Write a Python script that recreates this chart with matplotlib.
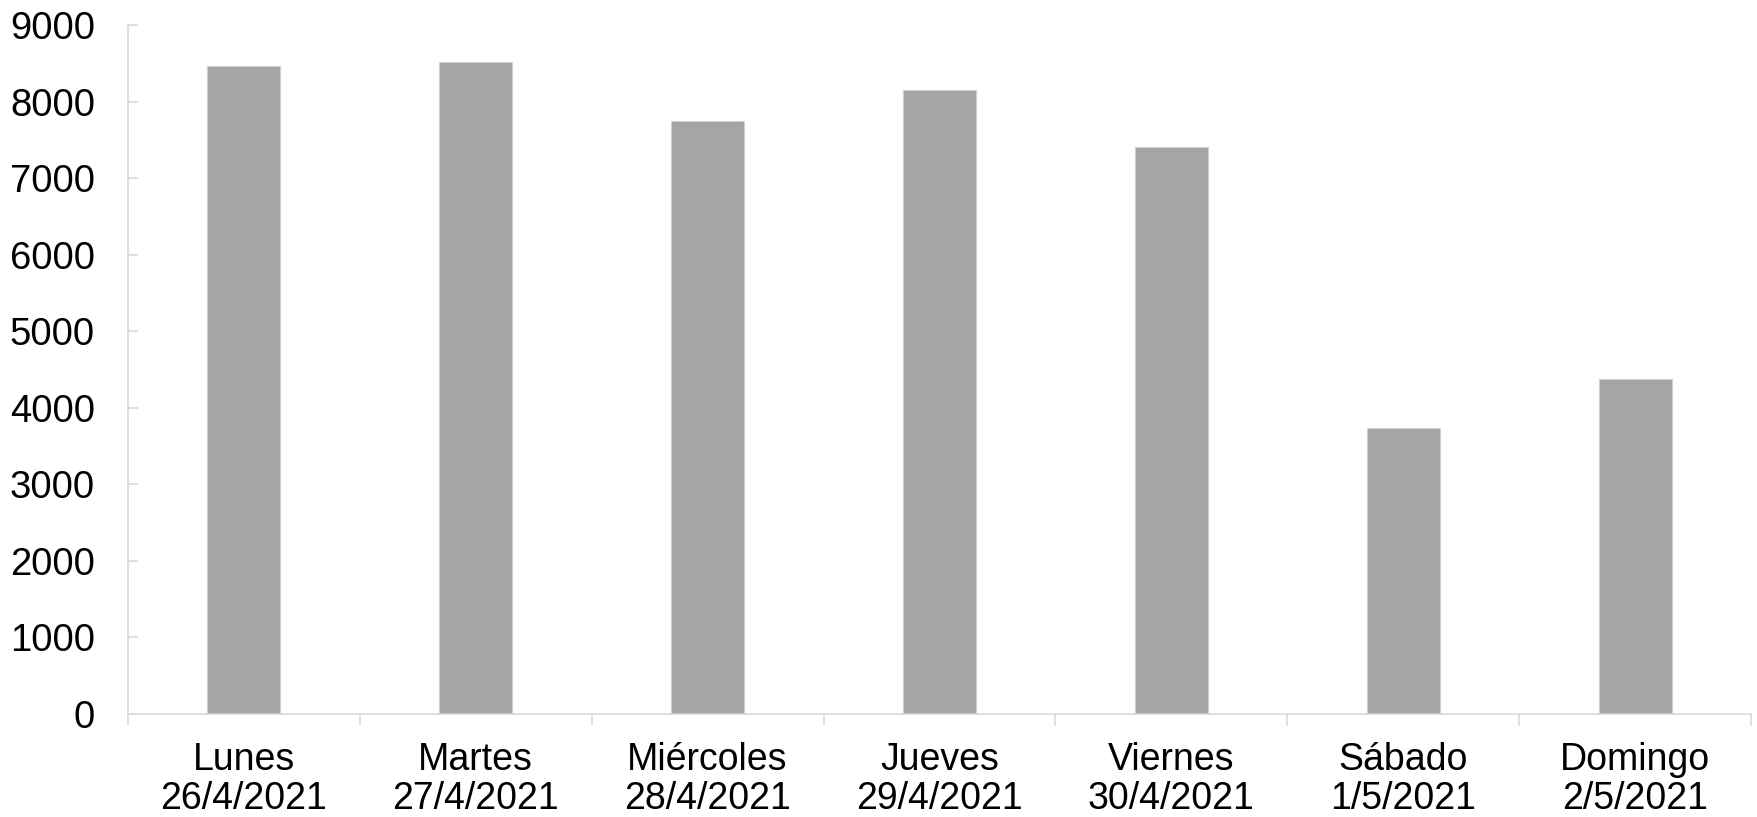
import numpy as np
import matplotlib
matplotlib.use("Agg")
import matplotlib.pyplot as plt

# datos
dias = ["Lunes\n26/4/2021", "Martes\n27/4/2021", "Miércoles\n28/4/2021",
        "Jueves\n29/4/2021", "Viernes\n30/4/2021", "Sábado\n1/5/2021",
        "Domingo\n2/5/2021"]
valores = [8460, 8520, 7740, 8150, 7400, 3730, 4370]
yticks = [0, 1000, 2000, 3000, 4000, 5000, 6000, 7000, 8000, 9000]

plt.rcParams['font.family'] = ['Liberation Sans', 'DejaVu Sans']

fig = plt.figure(figsize=(17.58, 8.17), dpi=100)
ax = fig.add_axes([0.0728, 0.1261, 0.9232, 0.8433])

x = np.arange(len(dias))
ax.bar(x, valores, width=0.315, color="#A5A5A5", edgecolor="#D0D0D0", linewidth=0.8)

ax.set_xlim(-0.5, len(dias) - 0.5)
ax.set_ylim(0, 9000)
ax.set_yticks(yticks)
ax.set_yticklabels([str(v) for v in yticks], fontsize=27.5)

ax.set_xticks(x)
ax.set_xticklabels(dias, fontsize=27, linespacing=1.12)
ax.set_xticks(np.arange(len(dias) + 1) - 0.5, minor=True)

ax.tick_params(axis="x", which="major", length=0, pad=20)
ax.tick_params(axis="x", which="minor", length=8.6, width=1.2, color="#D9D9D9", direction="out")
ax.tick_params(axis="y", which="major", length=7, width=1.2, color="#D9D9D9", direction="in", pad=23.8)

for s in ["top", "right"]:
    ax.spines[s].set_visible(False)
for s in ["left", "bottom"]:
    ax.spines[s].set_color("#D9D9D9")
    ax.spines[s].set_linewidth(1.2)

fig.savefig("out.png", dpi=100)
plt.close()
